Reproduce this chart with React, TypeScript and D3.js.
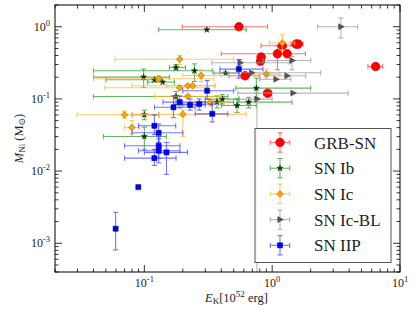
import React from 'react'
import * as d3 from 'd3'

// each row: [E_K, E_lo, E_hi, M_Ni, M_lo, M_hi]
type Row = number[]

const grbSn: Row[] = [
  [0.55, 0.198, 0.92, 1.0, 1.0, 1.0],
  [1.2, 0.82, 1.58, 0.545, 0.545, 0.545],
  [1.54, 1.54, 1.54, 0.575, 0.575, 0.575],
  [1.6, 1.4, 1.75, 0.575, 0.575, 0.575],
  [1.1, 0.4, 1.82, 0.422, 0.253, 0.55],
  [1.31, 1.31, 1.31, 0.422, 0.422, 0.422],
  [0.82, 0.82, 0.82, 0.38, 0.38, 0.38],
  [0.81, 0.81, 0.81, 0.332, 0.332, 0.332],
  [0.614, 0.46, 0.8, 0.209, 0.209, 0.209],
  [0.922, 0.86, 0.99, 0.12, 0.12, 0.12],
  [6.45, 5.61, 7.32, 0.281, 0.281, 0.281],
]

const snIb: Row[] = [
  [0.308, 0.1295, 0.627, 0.909, 0.909, 0.909],
  [0.177, 0.157, 0.21, 0.2725, 0.25, 0.3],
  [0.0987, 0.04, 0.157, 0.2006, 0.144, 0.259],
  [0.12, 0.05, 0.135, 0.184, 0.184, 0.184],
  [0.139, 0.106, 0.172, 0.171, 0.171, 0.171],
  [0.2466, 0.04, 0.34, 0.2453, 0.174, 0.306],
  [0.432, 0.35, 0.55, 0.228, 0.228, 0.228],
  [0.752, 0.52, 2.0, 0.141, 0.103, 0.194],
  [0.177, 0.04, 0.45, 0.108, 0.083, 0.127],
  [0.1, 0.08, 0.13, 0.0602, 0.0515, 0.07],
  [0.1, 0.048, 0.149, 0.0301, 0.02, 0.0405],
  [0.407, 0.3, 0.55, 0.0994, 0.085, 0.115],
  [0.37, 0.27, 0.5, 0.0903, 0.075, 0.11],
  [0.531, 0.4, 0.75, 0.081, 0.065, 0.1],
  [0.655, 0.54, 1.43, 0.0903, 0.075, 0.105],
]

const snIc: Row[] = [
  [0.189, 0.059, 0.5, 0.354, 0.3, 0.4],
  [0.1295, 0.04, 0.35, 0.19, 0.17, 0.21],
  [0.278, 0.2, 0.4, 0.211, 0.174, 0.253],
  [0.189, 0.049, 0.32, 0.1426, 0.1426, 0.1426],
  [0.219, 0.08, 0.35, 0.152, 0.152, 0.152],
  [0.239, 0.15, 0.36, 0.152, 0.152, 0.152],
  [0.219, 0.12, 0.4, 0.1086, 0.1086, 0.1086],
  [0.07, 0.0297, 0.13, 0.0602, 0.054, 0.068],
  [0.0798, 0.07, 0.0913, 0.0401, 0.0325, 0.05],
  [0.2, 0.08, 0.627, 0.0611, 0.0301, 0.07],
  [1.2, 0.95, 1.5, 0.594, 0.48, 0.774],
  [0.9, 0.72, 1.15, 0.2208, 0.2, 0.26],
  [0.329, 0.25, 0.45, 0.0897, 0.08, 0.1],
]

const snIcBL: Row[] = [
  [3.445, 2.262, 4.66, 1.0, 0.697, 1.32],
  [0.561, 0.338, 1.372, 0.317, 0.29, 0.35],
  [1.43, 0.847, 2.0, 0.341, 0.253, 0.387],
  [0.69, 0.39, 2.4, 0.23, 0.23, 0.23],
  [1.306, 0.9, 1.83, 0.209, 0.209, 0.209],
  [1.071, 0.8, 1.4, 0.187, 0.187, 0.187],
  [1.456, 0.539, 3.93, 0.1203, 0.1203, 0.1203],
  [0.76, 0.55, 1.0, 0.0994, 0.0001, 0.12],
]

const snIIP: Row[] = [
  [0.549, 0.39, 0.847, 0.259, 0.194, 0.35],
  [0.31, 0.2, 0.5, 0.1295, 0.1, 0.18],
  [0.189, 0.14, 0.3, 0.0903, 0.075, 0.11],
  [0.228, 0.17, 0.3, 0.0828, 0.07, 0.1],
  [0.2685, 0.2, 0.34, 0.0847, 0.07, 0.1],
  [0.34, 0.25, 0.45, 0.0621, 0.048, 0.085],
  [0.169, 0.12, 0.25, 0.0765, 0.055, 0.11],
  [0.1198, 0.09, 0.176, 0.0424, 0.032, 0.06],
  [0.1295, 0.08, 0.2, 0.0339, 0.025, 0.045],
  [0.1295, 0.07, 0.19, 0.0224, 0.015, 0.03],
  [0.1295, 0.09, 0.19, 0.0191, 0.013, 0.028],
  [0.149, 0.1, 0.218, 0.01817, 0.009, 0.025],
  [0.1198, 0.07, 0.177, 0.0151, 0.012, 0.02],
  [0.0897, 0.0897, 0.0897, 0.006, 0.006, 0.006],
  [0.0596, 0.0596, 0.0596, 0.00159, 0.00081, 0.00269],
]

const xExps = [-1, 0, 1]
const yExps = [-3, -2, -1, 0]

const W = 416, H = 315
const margin = { left: 55, right: 16, top: 5, bottom: 43 }
const FONT = "'Liberation Serif', 'DejaVu Serif', serif"

// marker path generators (centred at 0,0)
const starPath = d3.symbol(d3.symbolStar, 12)()
const squarePath = d3.symbol(d3.symbolSquare, 26)()
const diamondPath = 'M0,-3.4L3.4,0L0,3.4L-3.4,0Z'
const triPath = 'M3.4,0L-2.2,-3L-2.2,3Z'

const series = [
  { name: 'GRB-SN', rows: grbSn, bar: '#ff4040', marker: 'circle', fill: '#ff0000', edge: '#c00000' },
  { name: 'SN Ib', rows: snIb, bar: '#2a9a2a', marker: starPath, fill: '#0b300b', edge: '#0b300b' },
  { name: 'SN Ic', rows: snIc, bar: '#ffb733', marker: diamondPath, fill: '#ffa500', edge: '#8a5a00' },
  { name: 'SN Ic-BL', rows: snIcBL, bar: '#999999', marker: triPath, fill: '#555555', edge: '#333333' },
  { name: 'SN IIP', rows: snIIP, bar: '#4040ff', marker: squarePath, fill: '#0000f0', edge: '#000080' },
]

const Marker = ({ s, x, y }: any) =>
  s.marker === 'circle'
    ? <circle cx={x} cy={y} r={4.3} fill={s.fill} stroke={s.edge} strokeWidth={0.7} />
    : <path d={s.marker} transform={`translate(${x},${y})`} fill={s.fill} stroke={s.edge} strokeWidth={0.5} />

const ErrBar = ({ x0, x1, y0, y1, cx, cy, color }: any) => {
  const cap = 2.6
  const out: any[] = []
  if (x1 - x0 > 0.5) {
    out.push(<line key="h" x1={x0} x2={x1} y1={cy} y2={cy} />)
    out.push(<line key="hc0" x1={x0} x2={x0} y1={cy - cap} y2={cy + cap} />)
    out.push(<line key="hc1" x1={x1} x2={x1} y1={cy - cap} y2={cy + cap} />)
  }
  if (y0 - y1 > 0.5) {
    out.push(<line key="v" x1={cx} x2={cx} y1={y0} y2={y1} />)
    out.push(<line key="vc0" x1={cx - cap} x2={cx + cap} y1={y0} y2={y0} />)
    out.push(<line key="vc1" x1={cx - cap} x2={cx + cap} y1={y1} y2={y1} />)
  }
  return <g stroke={color} strokeWidth={1.1} strokeOpacity={0.72}>{out}</g>
}

export default function App() {
  const x = d3.scaleLog().domain([0.02, 10]).range([margin.left, W - margin.right])
  const y = d3.scaleLog().domain([4e-4, 2]).range([H - margin.bottom, margin.top])
  const [xl, xr] = x.range()
  const [yb, yt] = y.range()

  const minorX: number[] = []
  for (let e = -2; e <= 1; e++) for (let k = 1; k < 10; k++) {
    const v = k * Math.pow(10, e)
    if (v >= 0.02 && v <= 10) minorX.push(v)
  }
  const minorY: number[] = []
  for (let e = -4; e <= 0; e++) for (let k = 1; k < 10; k++) {
    const v = k * Math.pow(10, e)
    if (v >= 4e-4 && v <= 2) minorY.push(v)
  }

  const legX = 255, legY = 128.5, legW = 136, legH = 134
  const rowH = 25.7

  return (
    <svg width={W} height={H} style={{ position: 'absolute', left: 0, top: 0, background: '#fff' }}>
      <defs>
        <clipPath id="plot"><rect x={xl} y={yt} width={xr - xl} height={yb - yt} /></clipPath>
      </defs>

      <g clipPath="url(#plot)">
        {series.map(s => (
          <g key={s.name}>
            {s.rows.map((r, i) => (
              <ErrBar key={i} x0={x(r[1])} x1={x(r[2])} y0={y(Math.max(r[4], 1e-5))} y1={y(r[5])}
                cx={x(r[0])} cy={y(r[3])} color={s.bar} />
            ))}
            {s.rows.map((r, i) => <Marker key={'m' + i} s={s} x={x(r[0])} y={y(r[3])} />)}
          </g>
        ))}
      </g>

      {/* ticks, all inward */}
      <g stroke="#000" strokeWidth={0.8}>
        {minorX.map(v => {
          const major = xExps.some(e => Math.abs(v - Math.pow(10, e)) < 1e-9)
          const l = major ? 7 : 3.5
          return <g key={'x' + v}>
            <line x1={x(v)} x2={x(v)} y1={yb} y2={yb - l} />
            <line x1={x(v)} x2={x(v)} y1={yt} y2={yt + l} />
          </g>
        })}
        {minorY.map(v => {
          const major = yExps.some(e => Math.abs(v - Math.pow(10, e)) < 1e-12)
          const l = major ? 7 : 3.5
          return <g key={'y' + v}>
            <line x1={xl} x2={xl + l} y1={y(v)} y2={y(v)} />
            <line x1={xr} x2={xr - l} y1={y(v)} y2={y(v)} />
          </g>
        })}
      </g>
      <rect x={xl} y={yt} width={xr - xl} height={yb - yt} fill="none" stroke="#000" strokeWidth={1} />

      <g fontFamily={FONT} fill="#222">
        {xExps.map(e => (
          <text key={e} x={x(Math.pow(10, e))} y={yb + 15} textAnchor="middle" fontSize={12}>
            10<tspan fontSize={8.5} dy={-5}>{e}</tspan>
          </text>
        ))}
        {yExps.map(e => (
          <text key={e} x={xl - 5} y={y(Math.pow(10, e)) + 4} textAnchor="end" fontSize={12}>
            10<tspan fontSize={8.5} dy={-5}>{e}</tspan>
          </text>
        ))}
        <text x={205} y={302} fontSize={12.5}>
          <tspan fontStyle="italic">E</tspan><tspan fontSize={9} dy={2}>K</tspan>
          <tspan dy={-2}>[10</tspan><tspan fontSize={9} dy={-5}>52</tspan><tspan dy={5}> erg]</tspan>
        </text>
        <text transform={`translate(23,${(yb + yt) / 2}) rotate(-90)`} textAnchor="middle" fontSize={12.5}>
          <tspan fontStyle="italic">M</tspan><tspan fontSize={9} dy={2}>Ni</tspan>
          <tspan dy={-2}> (M</tspan><tspan fontSize={9} dy={2}>⊙</tspan><tspan dy={-2}>)</tspan>
        </text>
      </g>

      {/* legend */}
      <g>
        <rect x={legX} y={legY} width={legW} height={legH} fill="#fff" fillOpacity={0.8} stroke="#555" strokeWidth={1} />
        {series.map((s, i) => {
          const cy = legY + 14 + i * rowH
          const cx = 280
          return <g key={s.name}>
            <ErrBar x0={cx - 9.7} x1={cx + 9.7} y0={cy + 9.7} y1={cy - 9.7} cx={cx} cy={cy} color={s.bar} />
            <Marker s={s} x={cx} y={cy} />
            <text x={314} y={cy + 6} fontFamily={FONT} fontSize={17} fill="#222">{s.name}</text>
          </g>
        })}
      </g>
    </svg>
  )
}
